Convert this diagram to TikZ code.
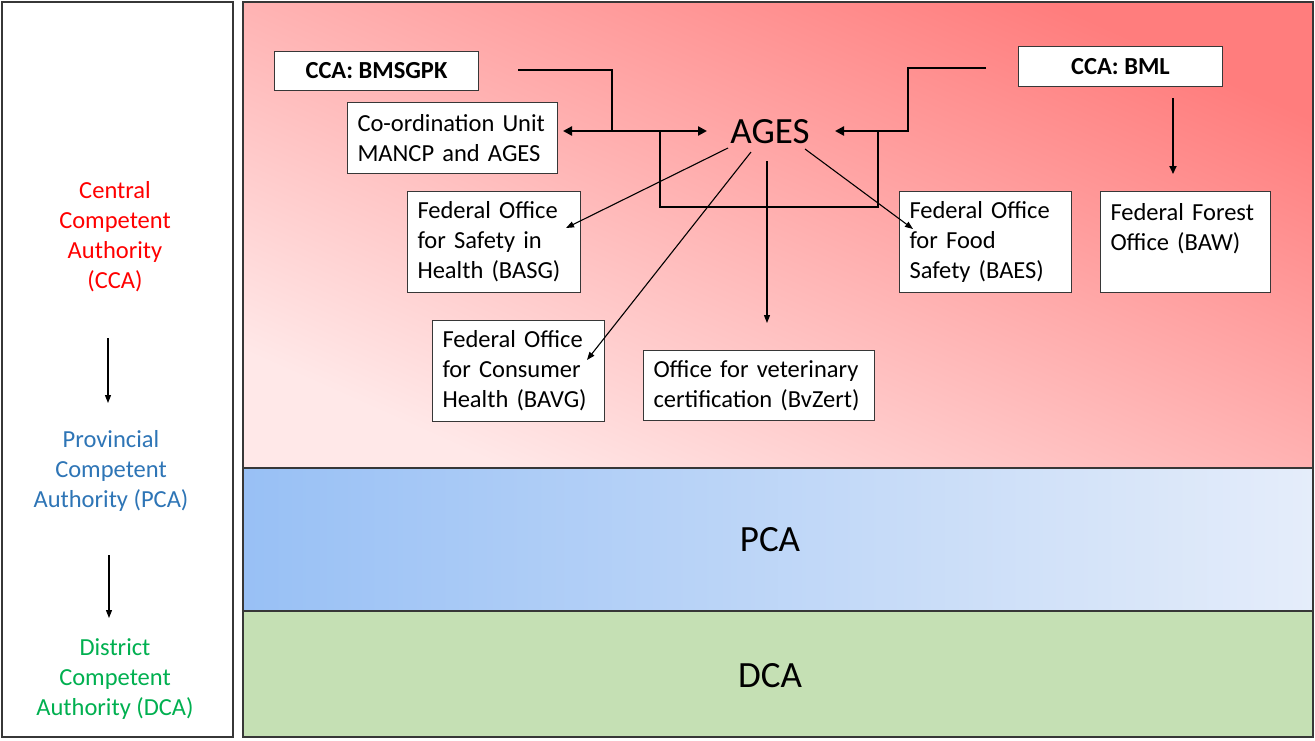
\documentclass[tikz,border=0pt]{standalone}
\usepackage{fontspec}
\setmainfont{Carlito}
\usetikzlibrary{arrows.meta}
\definecolor{redtop}{RGB}{255,125,125}
\definecolor{redbot}{RGB}{255,232,232}
\definecolor{pcal}{RGB}{152,192,245}
\definecolor{pcar}{RGB}{229,237,250}
\definecolor{dcag}{RGB}{197,224,180}
\definecolor{framec}{RGB}{55,55,55}
\definecolor{ccatext}{RGB}{255,0,0}
\definecolor{pcatext}{RGB}{46,117,182}
\definecolor{dcatext}{RGB}{0,176,80}
\begin{document}
\begin{tikzpicture}[x=1pt,y=-1pt,
  box/.style={draw=framec, line width=1pt, fill=white, anchor=north west, align=left,
    inner xsep=10pt, inner ysep=0pt, font=\fontsize{24.5}{30}\selectfont},
  ccabox/.style={draw=framec, line width=1pt, fill=white, anchor=north west, align=center,
    inner sep=0pt, font=\fontsize{24.5}{30}\selectfont\bfseries},
  sidetext/.style={align=center, font=\fontsize{24.5}{30}\selectfont},
  bigtext/.style={font=\fontsize{37}{44}\selectfont, inner sep=0pt},
  region/.style={draw=framec, line width=1.3pt},
  heavy/.style={line width=2.8pt},
  heavyarrow/.style={line width=2.8pt, -{Triangle[length=9pt,width=9pt]}},
  midarrow/.style={line width=1.8pt, -{Triangle[length=8pt,width=7pt]}},
  thinarrow/.style={line width=1.1pt, -{Triangle[length=8pt,width=6pt]}},
  frameline/.style={line width=1.8pt},
]
\useasboundingbox (0,0) rectangle (1315,740);

% left panel
\draw[region, fill=white] (2,2) rectangle (233,737);
% regions
\shade[top color=redtop, bottom color=redbot, shading angle=-24] (243,2) rectangle (1313,468);
\shade[left color=pcal, right color=pcar] (243,468) rectangle (1313,611);
\fill[dcag] (243,611) rectangle (1313,737);
\draw[region] (243,2) rectangle (1313,737);
\draw[region] (243,468) -- (1313,468);
\draw[region] (243,611) -- (1313,611);

% left panel texts
\node[sidetext, text=ccatext] (lcca) at (115,237) {Central\\Competent\\Authority\\(CCA)};
\node[sidetext, text=pcatext] (lpca) at (111,471) {Provincial\\Competent\\Authority (PCA)};
\node[sidetext, text=dcatext] (ldca) at (115,679) {District\\Competent\\Authority (DCA)};
\coordinate (la1) at (108,338);
\coordinate (la2) at (108,403);
\coordinate (la3) at (109,555);
\coordinate (la4) at (109,618);
\draw[thinarrow] (la1) -- (la2);
\draw[thinarrow] (la3) -- (la4);

% band labels
\node[bigtext] (pca) at (770,540) {PCA};
\node[bigtext] (dca) at (770,676) {DCA};

% boxes
\node[ccabox, minimum width=204pt, minimum height=39pt] (bmsgpk) at (274,51) {CCA: BMSGPK};
\node[ccabox, minimum width=204pt, minimum height=40pt] (bml) at (1018,46) {CCA: BML};
\node[box, text width=190pt, minimum height=71pt] (coord) at (347,102) {Co-ordination Unit\\MANCP and AGES};
\node[box, text width=153pt, minimum height=101pt] (basg) at (407,191) {Federal Office\\for Safety in\\Health (BASG)};
\node[box, text width=152pt, minimum height=101pt] (baes) at (899,191) {Federal Office\\for Food\\Safety (BAES)};
\node[box, text width=150pt, minimum height=101pt] (baw) at (1100,191) {Federal Forest\\Office (BAW)\\\mbox{}};
\node[box, text width=152pt, minimum height=101pt] (bavg) at (432,320) {Federal Office\\for Consumer\\Health (BAVG)};
\node[box, text width=211pt, minimum height=70pt] (bvzert) at (643,350) {Office for veterinary\\certification (BvZert)};
\node[bigtext] (ages) at (770,132) {AGES};

% BMSGPK connector
\coordinate (m1) at (518,70);
\coordinate (m2) at (612,70);
\coordinate (m3) at (612,131);
\coordinate (coordtip) at (563,131);
\coordinate (agesl) at (707,131);
\draw[heavy] (m1) -- (m2) -- (m3);
\draw[heavy, {Triangle[length=9pt,width=9pt]}-{Triangle[length=9pt,width=9pt]}] (coordtip) -- (agesl);

% BML connector
\coordinate (l1) at (986,68);
\coordinate (l2) at (908,68);
\coordinate (l3) at (908,131);
\coordinate (agesr) at (835,131);
\draw[heavyarrow] (l1) -- (l2) -- (l3) -- (agesr);

% thin bracket
\coordinate (k1) at (660,131);
\coordinate (k2) at (660,207);
\coordinate (k3) at (878,207);
\coordinate (k4) at (878,131);
\draw[frameline] (k1) -- (k2) -- (k3) -- (k4);

% AGES arrows
\coordinate (a1) at (728,148);
\coordinate (t1) at (566,228);
\coordinate (a2) at (751,152);
\coordinate (t2) at (587,360);
\coordinate (a3) at (767,161);
\coordinate (t3) at (767,323);
\coordinate (a4) at (805,149);
\coordinate (t4) at (913,229);
\draw[thinarrow] (a1) -- (t1);
\draw[thinarrow] (a2) -- (t2);
\draw[thinarrow] (a3) -- (t3);
\draw[thinarrow] (a4) -- (t4);

% BML to forest
\coordinate (f1) at (1173,98);
\coordinate (f2) at (1173,174);
\draw[midarrow] (f1) -- (f2);
\end{tikzpicture}
\end{document}
